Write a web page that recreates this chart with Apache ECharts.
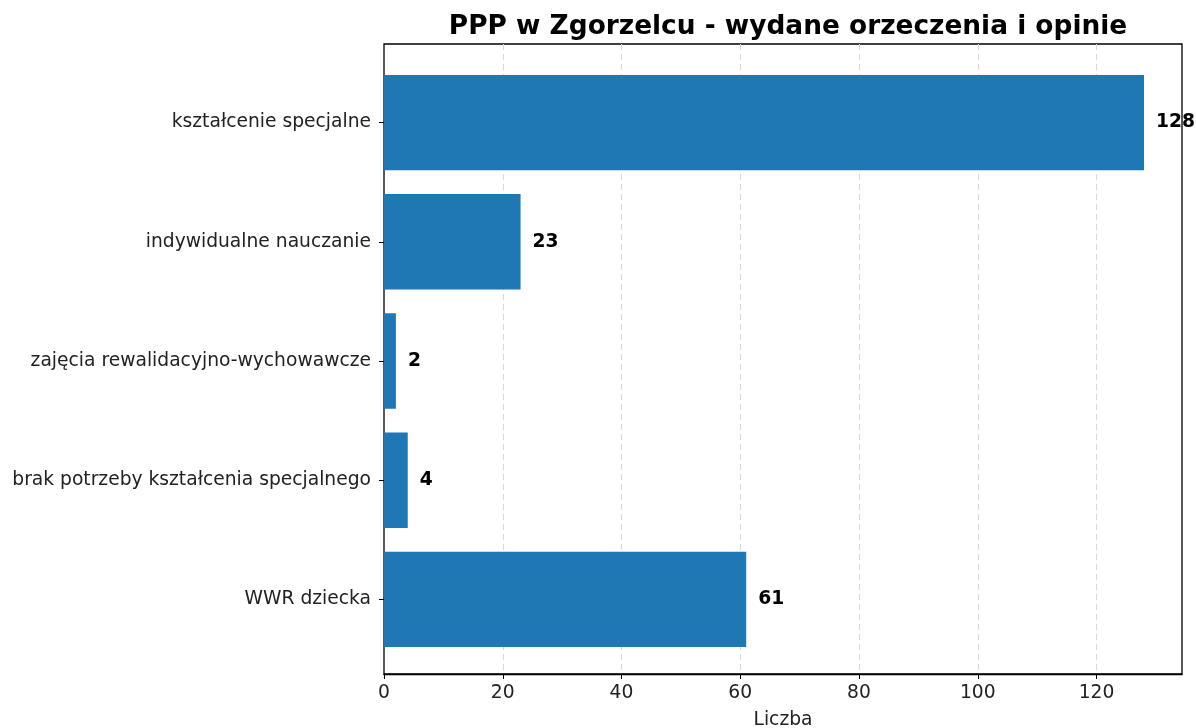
<!DOCTYPE html>
<html>
<head>
<meta charset="utf-8">
<script src="https://cdn.jsdelivr.net/npm/echarts@6/dist/echarts.min.js"></script>
<style>
    html, body { margin: 0; padding: 0; background: #fff; }
    #chart { width: 1196px; height: 728px; }
</style>
</head>
<body>
<div id="chart"></div>
<script>
var categories = ['kształcenie specjalne', 'indywidualne nauczanie', 'zajęcia rewalidacyjno-wychowawcze',
    'brak potrzeby kształcenia specjalnego', 'WWR dziecka'];
var values = [128, 23, 2, 4, 61];
var xTicks = [0, 20, 40, 60, 80, 100, 120];

var font = 'DejaVu Sans';
var fs = 18.7;
var xMax = 134.4;

var option = {
    animation: false,
    backgroundColor: '#fff',
    title: {
        text: 'PPP w Zgorzelcu - wydane orzeczenia i opinie',
        left: 783,
        textAlign: 'center',
        top: 9,
        textStyle: { fontFamily: font, fontSize: 26.4, fontWeight: 'bold', color: '#000' }
    },
    grid: [
        // frame grid with the x axis
        { left: 384, top: 44, width: 798, height: 630, outerBoundsMode: 'none', containLabel: false,
          show: true, borderColor: '#000', borderWidth: 1.3, backgroundColor: 'transparent' },
        // bar grid (matplotlib margins)
        { left: 384, top: 63, width: 798, height: 596, outerBoundsMode: 'none', containLabel: false }
    ],
    xAxis: [
        {
            gridIndex: 0,
            type: 'value',
            min: 0,
            max: xMax,
            interval: 20,
            name: 'Liczba',
            nameLocation: 'middle',
            nameGap: 37,
            nameTextStyle: { fontFamily: font, fontSize: fs, color: '#222' },
            axisLine: { show: true, lineStyle: { color: '#000', width: 1.3 } },
            axisTick: { show: true, length: 5, lineStyle: { color: '#000' } },
            axisLabel: {
                fontFamily: font, fontSize: fs, color: '#222', margin: 10,
                showMaxLabel: false,
                formatter: function (v) { return xTicks.indexOf(v) >= 0 ? String(v) : ''; }
            },
            splitLine: { show: true, showMinLine: false, showMaxLine: false,
                lineStyle: { color: '#d8d8d8', type: [6, 4], width: 1 } }
        },
        {
            gridIndex: 1,
            type: 'value',
            min: 0,
            max: xMax,
            show: false
        }
    ],
    yAxis: [
        {
            gridIndex: 0,
            type: 'value',
            show: false
        },
        {
            gridIndex: 1,
            type: 'category',
            inverse: true,
            data: categories,
            axisLine: { show: false },
            axisTick: { show: true, alignWithLabel: true, length: 5, lineStyle: { color: '#000' } },
            axisLabel: { fontFamily: font, fontSize: fs, color: '#222', margin: 13 },
            splitLine: { show: false }
        }
    ],
    series: [
        {
            type: 'bar',
            xAxisIndex: 1,
            yAxisIndex: 1,
            data: values,
            barWidth: '80%',
            itemStyle: { color: '#1f77b4' },
            label: {
                show: true,
                position: 'right',
                distance: 12,
                fontFamily: font,
                fontSize: fs,
                fontWeight: 'bold',
                color: '#000'
            }
        }
    ]
};

var myChart = echarts.init(document.getElementById('chart'));
myChart.setOption(option);
</script>
</body>
</html>
